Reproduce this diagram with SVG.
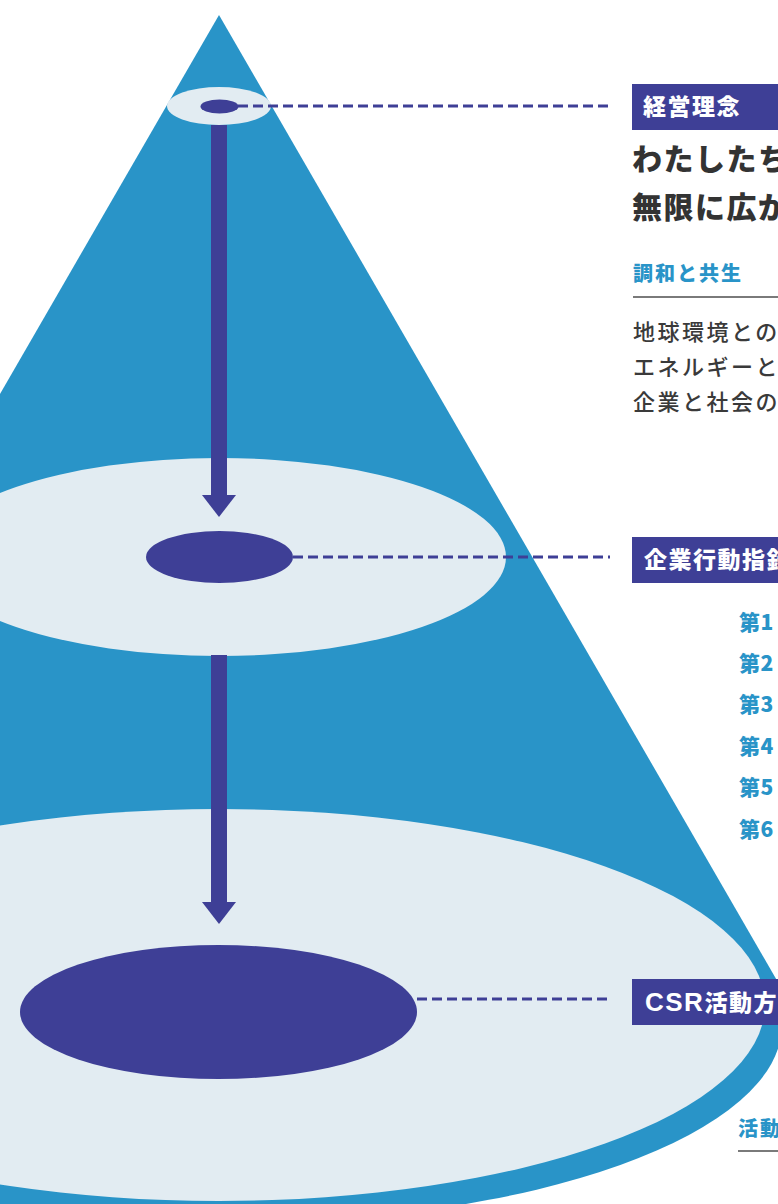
<svg xmlns="http://www.w3.org/2000/svg" width="778" height="1204" viewBox="0 0 778 1204">
<defs>
<style>
.cone{fill:#2994C8}
.disc{fill:#E2ECF2}
.core{fill:#3E3F96}
.box{fill:#3E3F96}
.dash{stroke:#3E3F96;stroke-width:3;stroke-dasharray:10 5;fill:none}
.shaft{stroke:#3E3F96;stroke-width:16;fill:none}
.jp{font-family:"Noto Sans CJK JP","Noto Sans",sans-serif}
.lat{font-family:"Liberation Sans","Noto Sans CJK JP",sans-serif;font-size:26px}
.lbl{font-size:23px;font-weight:900;fill:#FFFFFF;letter-spacing:1.5px}
.head{font-size:30px;font-weight:900;fill:#333333;letter-spacing:1.5px}
.sub{font-size:20px;font-weight:900;fill:#2994C8;letter-spacing:2px}
.body{font-size:22px;font-weight:500;fill:#3A3A3A;letter-spacing:2.5px}
.item{font-size:21px;font-weight:900;fill:#2994C8;letter-spacing:0.5px}
.rule{stroke:#7A7A7A;stroke-width:2}
</style>
<marker id="ah" markerUnits="userSpaceOnUse" markerWidth="22" markerHeight="34" viewBox="0 0 22 34" refX="0" refY="17" orient="auto">
<path d="M0,0 L22,17 L0,34 Z" fill="#3E3F96"/>
</marker>
</defs>
<rect width="778" height="1204" fill="#FFFFFF"/>
<g id="cone">
<polygon class="cone" points="219,15 790,1003 -352,1003"/>
<ellipse class="cone" cx="230" cy="1025" rx="552" ry="198"/>
</g>
<g id="level-top">
<ellipse class="disc" cx="219" cy="106" rx="52" ry="19"/>
<ellipse class="core" cx="219.5" cy="106.5" rx="19" ry="7"/>
</g>
<g id="level-middle">
<ellipse class="disc" cx="219" cy="557" rx="287" ry="99"/>
<ellipse class="core" cx="219.5" cy="557" rx="73.5" ry="26"/>
</g>
<g id="level-bottom">
<ellipse class="disc" cx="219" cy="1005" rx="546" ry="196"/>
<ellipse class="core" cx="218.5" cy="1012" rx="198.5" ry="67"/>
</g>
<g id="connectors">
<line class="shaft" x1="219" y1="125" x2="219" y2="495" marker-end="url(#ah)"/>
<line class="shaft" x1="219" y1="655" x2="219" y2="902" marker-end="url(#ah)"/>
<line class="dash" x1="238" y1="106" x2="610" y2="106"/>
<line class="dash" x1="293" y1="557" x2="610" y2="557"/>
<line class="dash" x1="417" y1="999" x2="610" y2="999"/>
</g>
<g id="label-philosophy">
<rect class="box" x="632" y="84" width="160" height="46"/>
<text class="jp lbl" x="643" y="115">経営理念</text>
<text class="jp head" x="632" y="170">わたしたち</text>
<text class="jp head" x="632" y="218">無限に広が</text>
<text class="jp sub" x="633" y="281">調和と共生</text>
<line class="rule" x1="633" y1="297" x2="778" y2="297"/>
<text class="jp body" x="633" y="340">地球環境との</text>
<text class="jp body" x="633" y="375">エネルギーと</text>
<text class="jp body" x="633" y="410">企業と社会の</text>
</g>
<g id="label-guidelines">
<rect class="box" x="632" y="537" width="160" height="46"/>
<text class="jp lbl" x="644" y="568">企業行動指針</text>
<text class="jp item" x="739" y="630">第1</text>
<text class="jp item" x="739" y="671">第2</text>
<text class="jp item" x="739" y="712">第3</text>
<text class="jp item" x="739" y="754">第4</text>
<text class="jp item" x="739" y="795">第5</text>
<text class="jp item" x="739" y="837">第6</text>
</g>
<g id="label-csr">
<rect class="box" x="632" y="979" width="160" height="46"/>
<text class="jp lbl" x="645" y="1011"><tspan class="lat">CSR</tspan>活動方</text>
<text class="jp sub" x="738" y="1136">活動</text>
<line class="rule" x1="738" y1="1151" x2="778" y2="1151"/>
</g>
</svg>
